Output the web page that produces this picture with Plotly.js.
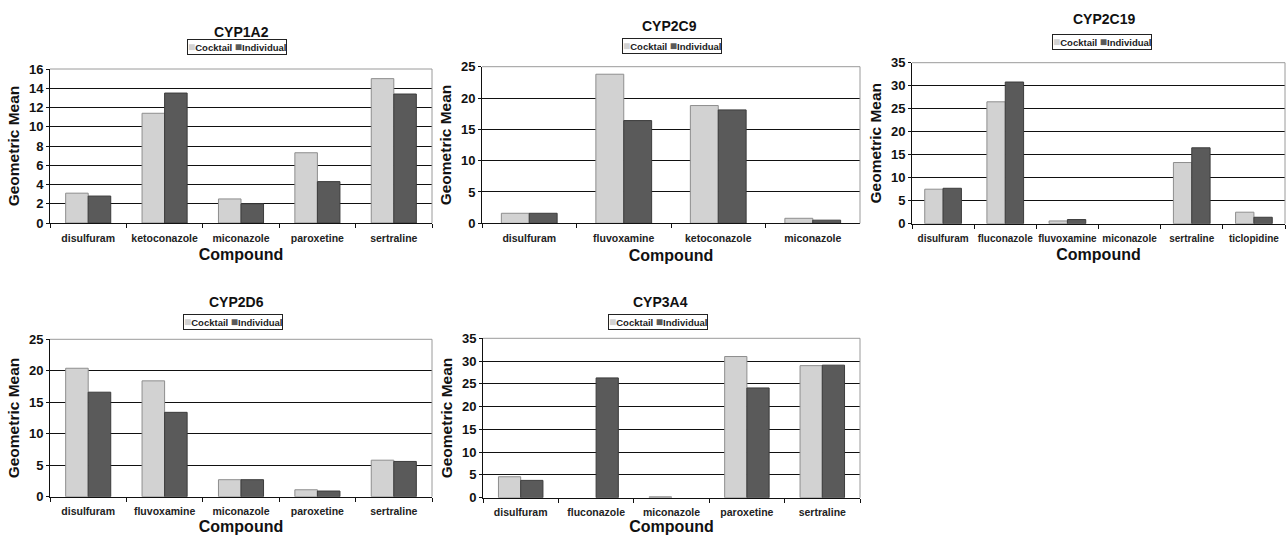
<!DOCTYPE html>
<html>
<head>
<meta charset="utf-8">
<script src="https://cdn.plot.ly/plotly-3.0.1.min.js"></script>
<style>
html,body{margin:0;padding:0;overflow:hidden;background:#fff;}
#chart{width:1300px;height:535px;}
</style>
</head>
<body>
<div id="chart"></div>
<script>
// ---- Data ----
const seriesNames = ["Cocktail", "Individual"];

const cyp1a2Compounds = ["disulfuram", "ketoconazole", "miconazole", "paroxetine", "sertraline"];
const cyp1a2Cocktail   = [3.1, 11.4, 2.5, 7.3, 15.0];
const cyp1a2Individual = [2.8, 13.5, 2.0, 4.3, 13.4];

const cyp2c9Compounds = ["disulfuram", "fluvoxamine", "ketoconazole", "miconazole"];
const cyp2c9Cocktail   = [1.6, 23.8, 18.8, 0.8];
const cyp2c9Individual = [1.6, 16.4, 18.1, 0.5];

const cyp2c19Compounds = ["disulfuram", "fluconazole", "fluvoxamine", "miconazole", "sertraline", "ticlopidine"];
const cyp2c19Cocktail   = [7.5, 26.5, 0.6, null, 13.3, 2.5];
const cyp2c19Individual = [7.7, 30.8, 0.9, null, 16.5, 1.4];

const cyp2d6Compounds = ["disulfuram", "fluvoxamine", "miconazole", "paroxetine", "sertraline"];
const cyp2d6Cocktail   = [20.4, 18.4, 2.7, 1.1, 5.8];
const cyp2d6Individual = [16.6, 13.4, 2.7, 0.9, 5.6];

const cyp3a4Compounds = ["disulfuram", "fluconazole", "miconazole", "paroxetine", "sertraline"];
const cyp3a4Cocktail   = [4.6, null, 0.2, 31.0, 29.0];
const cyp3a4Individual = [3.8, 26.3, null, 24.1, 29.1];

const panelTitles = ["CYP1A2", "CYP2C9", "CYP2C19", "CYP2D6", "CYP3A4"];
const yTitle = "Geometric Mean";
const xTitle = "Compound";
const yMax = [16, 25, 35, 25, 35];
const yStep = [2, 5, 5, 5, 5];

// ---- Layout geometry (pixels) ----
const W = 1300, H = 535;
const px = v => v / W;
const py = v => 1 - v / H;
// [left, right, top, bottom] of each plot area in pixels
const boxes = [
  [50, 432, 69, 223],
  [482, 860, 66.7, 223.3],
  [912, 1285, 62.7, 223.7],
  [50, 432, 339.3, 496.7],
  [483, 860, 338.3, 497.7]
];
const titlePos = [[241, 32], [670, 26], [1104, 19], [236, 302], [660, 302]];
const legendPos = [[237, 47], [672, 45.5], [1102, 42.5], [233, 322], [658, 322]];
const catFontSize = [10.5, 10.5, 10, 10.5, 10.5];

const panels = [
  [cyp1a2Compounds, cyp1a2Cocktail, cyp1a2Individual],
  [cyp2c9Compounds, cyp2c9Cocktail, cyp2c9Individual],
  [cyp2c19Compounds, cyp2c19Cocktail, cyp2c19Individual],
  [cyp2d6Compounds, cyp2d6Cocktail, cyp2d6Individual],
  [cyp3a4Compounds, cyp3a4Cocktail, cyp3a4Individual]
];

const FONT = "Liberation Sans, Arial, sans-serif";
const lightFill = "#d2d2d2", lightLine = "#8e8e8e";
const darkFill = "#5a5a5a", darkLine = "#3c3c3c";

const traces = [];
const layout = {
  width: W, height: H,
  margin: {l: 0, r: 0, t: 0, b: 0},
  paper_bgcolor: "#fff", plot_bgcolor: "#fff",
  showlegend: false,
  barmode: "group", bargap: 0.41, bargroupgap: 0,
  font: {family: FONT, color: "#111", weight: 700},
  annotations: [], shapes: []
};

panels.forEach((p, i) => {
  const n = i === 0 ? "" : String(i + 1);
  const xa = "x" + n, ya = "y" + n;
  const [l, r, t, b] = boxes[i];
  traces.push({
    type: "bar", name: seriesNames[0], x: p[0], y: p[1], xaxis: xa, yaxis: ya,
    marker: {color: lightFill, line: {color: lightLine, width: 1}}
  });
  traces.push({
    type: "bar", name: seriesNames[1], x: p[0], y: p[2], xaxis: xa, yaxis: ya,
    marker: {color: darkFill, line: {color: darkLine, width: 1}}
  });
  layout["xaxis" + n] = {
    domain: [px(l), px(r)], anchor: ya,
    type: "category", categoryarray: p[0], categoryorder: "array",
    showline: true, linecolor: "#111", linewidth: 1,
    ticks: "outside", tickson: "boundaries", ticklen: 4, tickcolor: "#111",
    tickangle: 0,
    showgrid: false, zeroline: false,
    tickfont: {family: FONT, size: catFontSize[i], color: "#222", weight: 700},
    ticklabelstandoff: 5,
    title: {text: xTitle, font: {family: FONT, size: 16, color: "#111", weight: 700}, standoff: 6},
    fixedrange: true
  };
  layout["yaxis" + n] = {
    domain: [py(b), py(t)], anchor: xa,
    range: [0, yMax[i]], dtick: yStep[i], tick0: 0,
    showline: true, linecolor: "#111", linewidth: 1,
    ticks: "outside", ticklen: 3, tickcolor: "#111",
    showgrid: true, gridcolor: "#111", gridwidth: 1, zeroline: false,
    tickfont: {family: FONT, size: 13, color: "#111", weight: 700},
    title: {text: yTitle, font: {family: FONT, size: 15.5, color: "#111", weight: 700}, standoff: 5},
    fixedrange: true
  };
  // gray plot-area border (top and right)
  layout.shapes.push({type: "line", xref: xa + " domain", yref: ya + " domain", x0: 0, x1: 1, y0: 1, y1: 1,
    line: {color: "#9a9a9a", width: 1}, layer: "above"});
  layout.shapes.push({type: "line", xref: xa + " domain", yref: ya + " domain", x0: 1, x1: 1, y0: 0, y1: 1,
    line: {color: "#9a9a9a", width: 1}, layer: "above"});
  // panel title
  layout.annotations.push({
    text: panelTitles[i], xref: "paper", yref: "paper",
    x: px(titlePos[i][0]), y: py(titlePos[i][1]), xanchor: "center", yanchor: "middle",
    showarrow: false, font: {family: FONT, size: 14, color: "#111", weight: 700}
  });
  // legend box
  layout.annotations.push({
    text: "<span style='color:" + lightFill + ";font-size:12px'>■</span>" + seriesNames[0] +
          " <span style='color:" + darkFill + ";font-size:12px'>■</span>" + seriesNames[1],
    xref: "paper", yref: "paper",
    x: px(legendPos[i][0]), y: py(legendPos[i][1]), xanchor: "center", yanchor: "middle",
    showarrow: false, bordercolor: "#222", borderwidth: 1, borderpad: 0, bgcolor: "#fff",
    font: {family: FONT, size: 9.5, color: "#222", weight: 700}
  });
});

Plotly.newPlot("chart", traces, layout, {displayModeBar: false, staticPlot: true});
</script>
</body>
</html>
